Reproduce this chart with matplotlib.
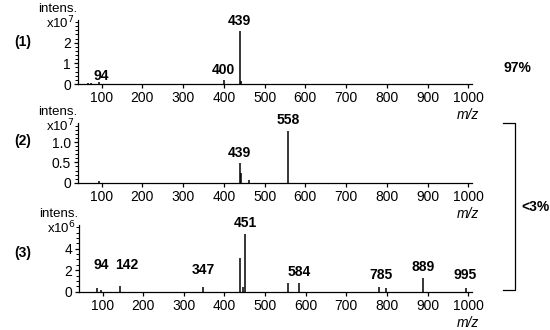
import numpy as np
import matplotlib
matplotlib.use("Agg")
import matplotlib.pyplot as plt
from matplotlib.lines import Line2D
from matplotlib.ticker import MultipleLocator

plt.rcParams['font.family'] = ['Liberation Sans', 'DejaVu Sans']
plt.rcParams['font.size'] = 10

# spectrum (1): m/z and intensity (x1e7)
mz1 = [66, 75, 94, 400, 439, 441]
int1 = [0.04, 0.04, 0.09, 0.2, 2.55, 0.15]
# peak labels: text, label x (m/z), label height (data units)
lab1 = [('94', 98, 0.39), ('400', 400, 0.68), ('439', 439, 3.07)]

# spectrum (2): intensity (x1e7)
mz2 = [93, 439, 441, 463, 558]
int2 = [0.04, 0.49, 0.25, 0.07, 1.28]
lab2 = [('439', 439, 0.74), ('558', 558, 1.54)]

# spectrum (3): intensity (x1e6)
mz3 = [87, 97, 142, 347, 439, 445, 451, 556, 584, 781, 797, 889, 995]
int3 = [0.3, 0.2, 0.5, 0.4, 3.1, 0.4, 5.4, 0.8, 0.8, 0.4, 0.3, 1.25, 0.3]
lab3 = [('94', 96, 2.5), ('142', 160, 2.5), ('347', 347, 2.0), ('451', 451, 6.4),
        ('584', 584, 1.8), ('785', 785, 1.55), ('889', 889, 2.3), ('995', 992, 1.55)]

names = ['(1)', '(2)', '(3)']
exps = ['7', '7', '6']
ymax = [3.1, 1.47, 6.2]
ymajor = [1, 0.5, 2]
yminor = [0.2, 0.1, 0.5]
yticklabels = [['0', '1', '2'], ['0', '0.5', '1.0'], ['0', '2', '4']]

fig = plt.figure(figsize=(5.5, 3.3), dpi=100)
W, H = 550.0, 330.0

# axes boxes in pixels: left, bottom-y, top-y
boxes = [(78, 84, 20), (78, 182.7, 123), (79, 291.7, 225)]
right = 471.5

data = [(mz1, int1, lab1), (mz2, int2, lab2), (mz3, int3, lab3)]

for i, (mz, inten, labs) in enumerate(data):
    l, b, t = boxes[i]
    ax = fig.add_axes([l / W, 1 - b / H, (right - l) / W, (b - t) / H])
    ax.vlines(mz, 0, inten, color='black', lw=1.1)
    ax.set_xlim(42, 1008)
    ax.set_ylim(0, ymax[i])
    ax.set_xticks(np.arange(100, 1001, 100))
    ax.yaxis.set_major_locator(MultipleLocator(ymajor[i]))
    ax.yaxis.set_minor_locator(MultipleLocator(yminor[i]))
    ax.set_yticks(np.arange(0, ymajor[i] * 3, ymajor[i]))
    ax.set_yticklabels(yticklabels[i])
    ax.tick_params(axis='both', labelsize=10, length=3, width=0.9, pad=2)
    ax.tick_params(axis='y', which='minor', length=2, width=0.7)
    for s in ['top', 'right']:
        ax.spines[s].set_visible(False)
    for s in ['left', 'bottom']:
        ax.spines[s].set_linewidth(0.9)
    for txt, xm, h in labs:
        ax.text(xm, h, txt, ha='center', va='center', fontsize=10,
                fontweight='bold', clip_on=False)
    # axis annotations
    fig.text((l - 1) / W, 1 - (t - 11) / H, 'intens.', ha='right', va='center', fontsize=9.5)
    fig.text((l - 3) / W, 1 - (t + 3) / H, r'x10$^{%s}$' % exps[i], ha='right',
             va='center', fontsize=9.5)
    fig.text(14 / W, 1 - (b - 42 if i < 2 else b - 39) / H, names[i],
             ha='left', va='center', fontsize=10, fontweight='bold')
    fig.text(468 / W, 1 - (b + 31) / H, 'm/z', ha='center', va='center',
             fontsize=10, style='italic')

fig.text(517 / W, 1 - 68 / H, '97%', ha='center', va='center', fontsize=10, fontweight='bold')
fig.text(535 / W, 1 - 207 / H, '<3%', ha='center', va='center', fontsize=10, fontweight='bold')

bx = [503 / W, 515 / W, 515 / W, 503 / W]
by = [1 - 123 / H, 1 - 123 / H, 1 - 290 / H, 1 - 290 / H]
fig.add_artist(Line2D(bx, by, transform=fig.transFigure, color='black', lw=0.9))

fig.savefig('out.png', dpi=100)
